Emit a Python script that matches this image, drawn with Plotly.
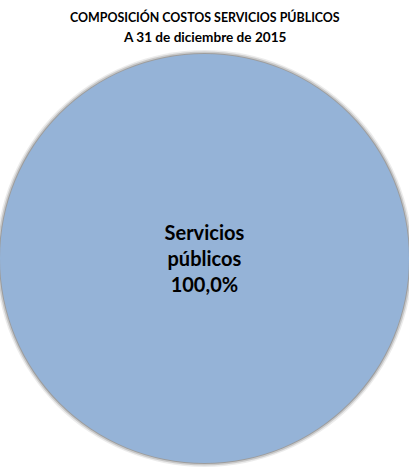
import plotly.graph_objects as go

# data
labels = ['Servicios públicos']
values = [100.0]
colors = ['#95B3D7']

title_line1 = 'COMPOSICIÓN COSTOS SERVICIOS PÚBLICOS'
title_line2 = 'A 31 de diciembre de 2015'

W, H = 409, 468
pie_y = [0.0107, 0.8846]

pct_text = [f"{v / sum(values) * 100:.1f}".replace('.', ',') + '%' for v in values]
slice_text = [lab.replace(' ', '<br>') + '<br>' + p for lab, p in zip(labels, pct_text)]

fig = go.Figure()

fig.add_trace(go.Pie(
    labels=labels,
    values=values,
    text=slice_text,
    textinfo='text',
    textposition='inside',
    insidetextfont=dict(family='Lato', size=20, color='black', weight='bold'),
    marker=dict(colors=colors, line=dict(width=0)),
    sort=False,
    showlegend=False,
    hoverinfo='label+percent',
    domain=dict(x=[0, 1], y=pie_y)
))

# soft shadow ring around the pie
cx, cy = 0.5, (pie_y[0] + pie_y[1]) / 2
r_px = min(W, (pie_y[1] - pie_y[0]) * H) / 2
for grow, alpha in [(4, 0.08), (2.5, 0.14), (1, 0.22)]:
    rx = (r_px + grow) / W
    ry = (r_px + grow) / H
    fig.add_shape(type='circle', xref='paper', yref='paper',
                  x0=cx - rx, x1=cx + rx, y0=cy - ry, y1=cy + ry,
                  fillcolor=f'rgba(0,0,0,{alpha})', line=dict(width=0),
                  layer='below')

fig.add_annotation(text='<b>' + title_line1 + '</b>', x=0.5, y=1 - 17 / H,
                   xref='paper', yref='paper', showarrow=False,
                   xanchor='center', yanchor='middle',
                   font=dict(family='Lato', size=12.4, color='black'))
fig.add_annotation(text='<b>' + title_line2 + '</b>', x=0.5, y=1 - 37 / H,
                   xref='paper', yref='paper', showarrow=False,
                   xanchor='center', yanchor='middle',
                   font=dict(family='Lato', size=13.6, color='black'))

fig.update_layout(
    width=W,
    height=H,
    margin=dict(l=0, r=0, t=0, b=0),
    paper_bgcolor='white',
    plot_bgcolor='white'
)

# page has a default 8px body margin; drop it so the chart sits at 0,0
fig.write_html('out.html', config={'displayModeBar': False},
               post_script="document.body.style.margin='0';")
